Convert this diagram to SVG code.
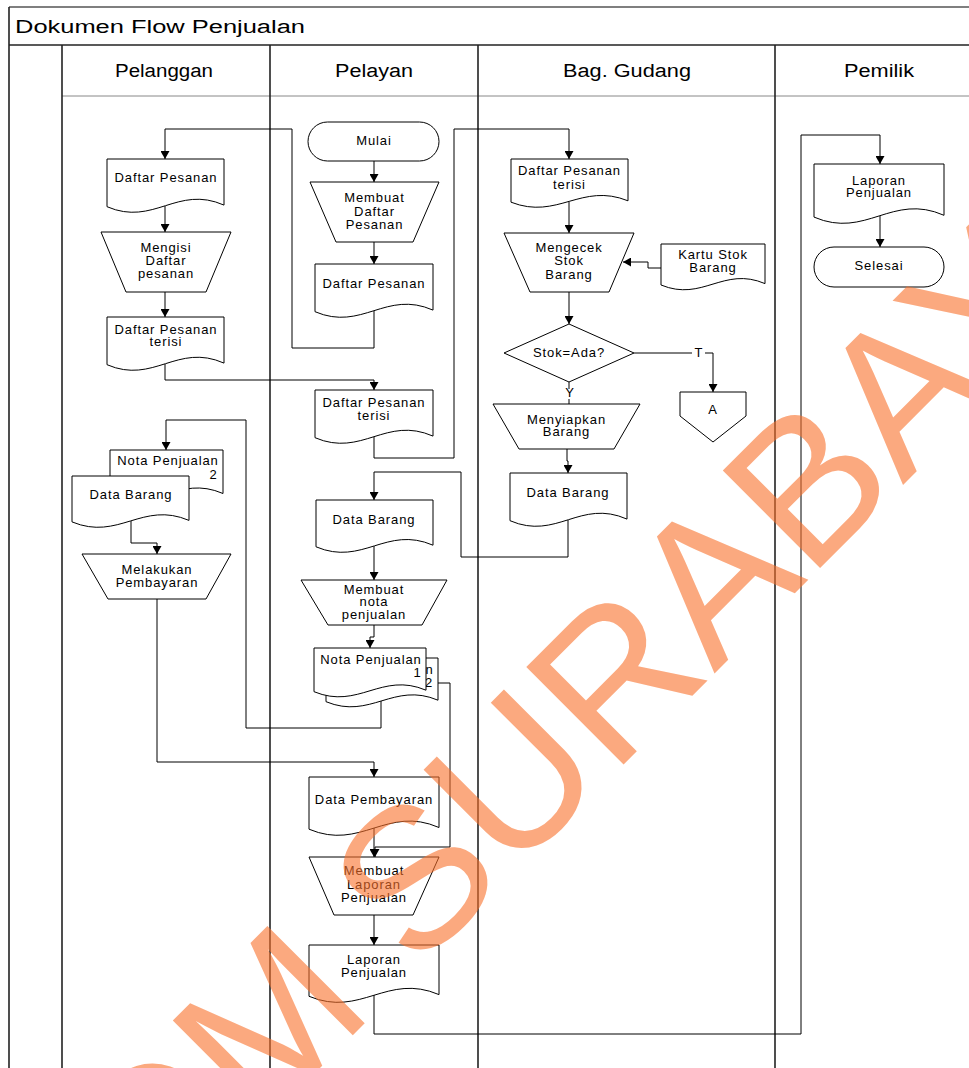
<svg xmlns="http://www.w3.org/2000/svg" width="969" height="1068" viewBox="0 0 969 1068">
<defs>
<marker id="ah" markerUnits="userSpaceOnUse" markerWidth="9" markerHeight="9" refX="8" refY="4.5" orient="auto">
<path d="M0,0 L8,4.5 L0,9 Z" fill="#000"/>
</marker>
<style>
.sh{fill:#fff;stroke:#000;stroke-width:1}
.t{font-family:"Liberation Sans",Arial,sans-serif;font-size:13px;letter-spacing:0.9px;fill:#000;text-anchor:middle}
.hd{font-family:"Liberation Sans",Arial,sans-serif;font-size:18px;fill:#000}
.lane{stroke:#222;stroke-width:1.6;fill:none}
.cn{fill:none;stroke:#000;stroke-width:1}
.ar{marker-end:url(#ah)}
</style>
</defs>
<rect width="969" height="1068" fill="#fff"/>

<g id="frame">
<line x1="9" y1="7" x2="969" y2="7" stroke="#555" stroke-width="1.5"/>
<line x1="9" y1="45" x2="969" y2="45" class="lane" stroke-width="2"/>
<line x1="62" y1="96" x2="969" y2="96" stroke="#888" stroke-width="1"/>
<line x1="9" y1="7" x2="9" y2="1068" class="lane"/>
<line x1="62" y1="45" x2="62" y2="1068" class="lane"/>
<line x1="270" y1="45" x2="270" y2="1068" class="lane"/>
<line x1="478" y1="45" x2="478" y2="1068" class="lane"/>
<line x1="775" y1="45" x2="775" y2="1068" class="lane"/>
<text class="hd" x="15" y="33" font-size="19" textLength="290" lengthAdjust="spacingAndGlyphs">Dokumen Flow Penjualan</text>
<text class="hd" x="115" y="77" textLength="98" lengthAdjust="spacingAndGlyphs">Pelanggan</text>
<text class="hd" x="335" y="77" textLength="78" lengthAdjust="spacingAndGlyphs">Pelayan</text>
<text class="hd" x="563" y="77" textLength="128" lengthAdjust="spacingAndGlyphs">Bag. Gudang</text>
<text class="hd" x="844" y="77" textLength="70" lengthAdjust="spacingAndGlyphs">Pemilik</text>
</g>

<g id="connectors">
<polyline class="cn ar" points="374,311 374,348 292,348 292,129 165,129 165,159"/>
<polyline class="cn ar" points="165,206 165,232"/>
<polyline class="cn ar" points="165,292 165,317"/>
<polyline class="cn ar" points="165,364 165,380 374,380 374,390"/>
<polyline class="cn ar" points="374,161 374,182"/>
<polyline class="cn ar" points="374,242 374,264"/>
<polyline class="cn ar" points="374,437 374,458 454,458 454,129 569,129 569,159"/>
<polyline class="cn ar" points="569,201 569,233"/>
<polyline class="cn ar" points="661,268 648,268 648,262 623,262"/>
<polyline class="cn ar" points="569,292 569,324"/>
<polyline class="cn" points="634,353 692,353"/>
<polyline class="cn ar" points="705,353 713,353 713,392"/>
<polyline class="cn" points="569,382 569,389"/>
<polyline class="cn" points="569,399 569,404"/>
<polyline class="cn ar" points="567,449 567,461 568,461 568,473"/>
<polyline class="cn ar" points="568,520 568,557 461,557 461,472 374,472 374,500"/>
<polyline class="cn ar" points="374,546 374,580"/>
<polyline class="cn ar" points="374,625 374,637 370,637 370,648"/>
<polyline class="cn ar" points="381,701 381,728 246,728 246,420 166,420 166,450"/>
<polyline class="cn ar" points="438,683 450,683 450,847 375,847 375,857"/>
<polyline class="cn ar" points="131,521 131,543 157,543 157,554"/>
<polyline class="cn ar" points="157,599 157,762 374,762 374,777"/>
<polyline class="cn ar" points="374,828 374,857"/>
<polyline class="cn ar" points="374,915 374,945"/>
<polyline class="cn ar" points="374,995 374,1034 801,1034 801,135 880,135 880,164"/>
<polyline class="cn ar" points="880,216 880,247"/>
<text class="t" x="699" y="357" font-size="12" letter-spacing="0">T</text>
<text class="t" x="570" y="397" font-size="12" letter-spacing="0">Y</text>
</g>

<g id="daftar-pesanan-pelanggan">
<path class="sh" d="M107,159 H224 V205.1 C177.2,184.4 153.8,226.8 107,206.7 Z"/>
<text class="t" x="166" y="182">Daftar Pesanan</text>
</g>
<g id="mengisi-daftar-pesanan">
<polygon class="sh" points="101,232 231,232 206,292 126,292"/>
<text class="t" x="166" y="251.5">Mengisi</text>
<text class="t" x="166" y="265">Daftar</text>
<text class="t" x="166" y="278">pesanan</text>
</g>
<g id="daftar-pesanan-terisi-pelanggan">
<path class="sh" d="M107,317 H224 V363.1 C177.2,342.4 153.8,384.8 107,364.7 Z"/>
<text class="t" x="166" y="333.5">Daftar Pesanan</text>
<text class="t" x="166" y="346">terisi</text>
</g>
<g id="nota-penjualan-2-pelanggan">
<path class="sh" d="M110,450 H223 V493.5 C177.8,474 155.2,514 110,495 Z"/>
<text class="t" x="168" y="465">Nota Penjualan</text>
<text class="t" x="213.5" y="478.5">2</text>
</g>
<g id="data-barang-pelanggan">
<path class="sh" d="M72,476 H189 V520.4 C142.2,500.5 118.8,541.3 72,521.9 Z"/>
<text class="t" x="131" y="498.5">Data Barang</text>
</g>
<g id="melakukan-pembayaran">
<polygon class="sh" points="82,554 231,554 206,599 108,599"/>
<text class="t" x="157" y="573.5">Melakukan</text>
<text class="t" x="157" y="587">Pembayaran</text>
</g>

<g id="mulai">
<rect class="sh" x="308" y="122" width="131" height="39" rx="19.5" ry="19.5"/>
<text class="t" x="374" y="145">Mulai</text>
</g>
<g id="membuat-daftar-pesanan">
<polygon class="sh" points="310,182 439,182 413,242 336,242"/>
<text class="t" x="374.5" y="202">Membuat</text>
<text class="t" x="374.5" y="215.5">Daftar</text>
<text class="t" x="374.5" y="229">Pesanan</text>
</g>
<g id="daftar-pesanan-pelayan">
<path class="sh" d="M315,264 H433 V310.1 C385.8,289.4 362.2,331.8 315,311.7 Z"/>
<text class="t" x="374" y="288">Daftar Pesanan</text>
</g>
<g id="daftar-pesanan-terisi-pelayan">
<path class="sh" d="M315,390 H433 V436.1 C385.8,415.4 362.2,457.8 315,437.7 Z"/>
<text class="t" x="374" y="407">Daftar Pesanan</text>
<text class="t" x="374" y="419.5">terisi</text>
</g>
<g id="data-barang-pelayan">
<path class="sh" d="M316,500 H433 V545.2 C386.2,525 362.8,566.6 316,546.8 Z"/>
<text class="t" x="374" y="523.5">Data Barang</text>
</g>
<g id="membuat-nota-penjualan">
<polygon class="sh" points="301,580 447,580 422,625 328,625"/>
<text class="t" x="374" y="593.5">Membuat</text>
<text class="t" x="374" y="606">nota</text>
<text class="t" x="374" y="618.5">penjualan</text>
</g>
<g id="nota-penjualan-multi">
<path class="sh" d="M326,658 H438 V700.2 C393.2,681.3 370.8,720.1 326,701.7 Z"/>
<text class="t" x="383" y="673.5">Nota Penjualan</text>
<text class="t" x="429" y="687">2</text>
<path class="sh" d="M314,648 H426 V690.2 C381.2,671.3 358.8,710.1 314,691.7 Z"/>
<text class="t" x="371" y="663.5">Nota Penjualan</text>
<text class="t" x="417.5" y="677">1</text>
</g>
<g id="data-pembayaran">
<path class="sh" d="M309,777 H439 V827.5 C387,804.8 361,851.2 309,829.2 Z"/>
<text class="t" x="374" y="803.5">Data Pembayaran</text>
</g>
<g id="membuat-laporan-penjualan">
<polygon class="sh" points="309,857 439,857 413,915 334,915"/>
<text class="t" x="374" y="875">Membuat</text>
<text class="t" x="374" y="888.5">Laporan</text>
<text class="t" x="374" y="902">Penjualan</text>
</g>
<g id="laporan-penjualan-pelayan">
<path class="sh" d="M309,945 H439 V994.6 C387,972.4 361,1018 309,996.3 Z"/>
<text class="t" x="374" y="963.5">Laporan</text>
<text class="t" x="374" y="977">Penjualan</text>
</g>

<g id="daftar-pesanan-terisi-gudang">
<path class="sh" d="M511,159 H628 V200.8 C581.2,182 557.8,220.4 511,202.2 Z"/>
<text class="t" x="569.5" y="175">Daftar Pesanan</text>
<text class="t" x="569.5" y="188.5">terisi</text>
</g>
<g id="mengecek-stok-barang">
<polygon class="sh" points="504,233 634,233 609,292 530,292"/>
<text class="t" x="569" y="252">Mengecek</text>
<text class="t" x="569" y="265">Stok</text>
<text class="t" x="569" y="278.5">Barang</text>
</g>
<g id="kartu-stok-barang">
<path class="sh" d="M661,244 H765 V283.6 C723.4,265.8 702.6,302.2 661,285 Z"/>
<text class="t" x="713" y="258.5">Kartu Stok</text>
<text class="t" x="713" y="271.7">Barang</text>
</g>
<g id="stok-ada">
<polygon class="sh" points="569,324 634,353 569,382 504,353"/>
<text class="t" x="569" y="357">Stok=Ada?</text>
</g>
<g id="konektor-a">
<polygon class="sh" points="680,392 746,392 746,416 713,442 680,416"/>
<text class="t" x="713" y="414">A</text>
</g>
<g id="menyiapkan-barang">
<polygon class="sh" points="493,404 640,404 614,449 519,449"/>
<text class="t" x="566.5" y="423.5">Menyiapkan</text>
<text class="t" x="566.5" y="436">Barang</text>
</g>
<g id="data-barang-gudang">
<path class="sh" d="M510,473 H627 V519.1 C580.2,498.4 556.8,540.8 510,520.7 Z"/>
<text class="t" x="568" y="497">Data Barang</text>
</g>

<g id="laporan-penjualan-pemilik">
<path class="sh" d="M814,164 H944 V215.3 C892,192.3 866,239.5 814,217.1 Z"/>
<text class="t" x="879" y="184.5">Laporan</text>
<text class="t" x="879" y="196.5">Penjualan</text>
</g>
<g id="selesai">
<rect class="sh" x="814" y="247" width="130" height="40" rx="20" ry="20"/>
<text class="t" x="879" y="270">Selesai</text>
</g>

<g id="watermark" opacity="0.6">
<text transform="translate(612,776) rotate(-45)" x="-1100" y="0" font-family="Liberation Sans, Arial, sans-serif" font-size="200" fill="#FA712B">STIKOM SURABAYA</text>
</g>
</svg>
